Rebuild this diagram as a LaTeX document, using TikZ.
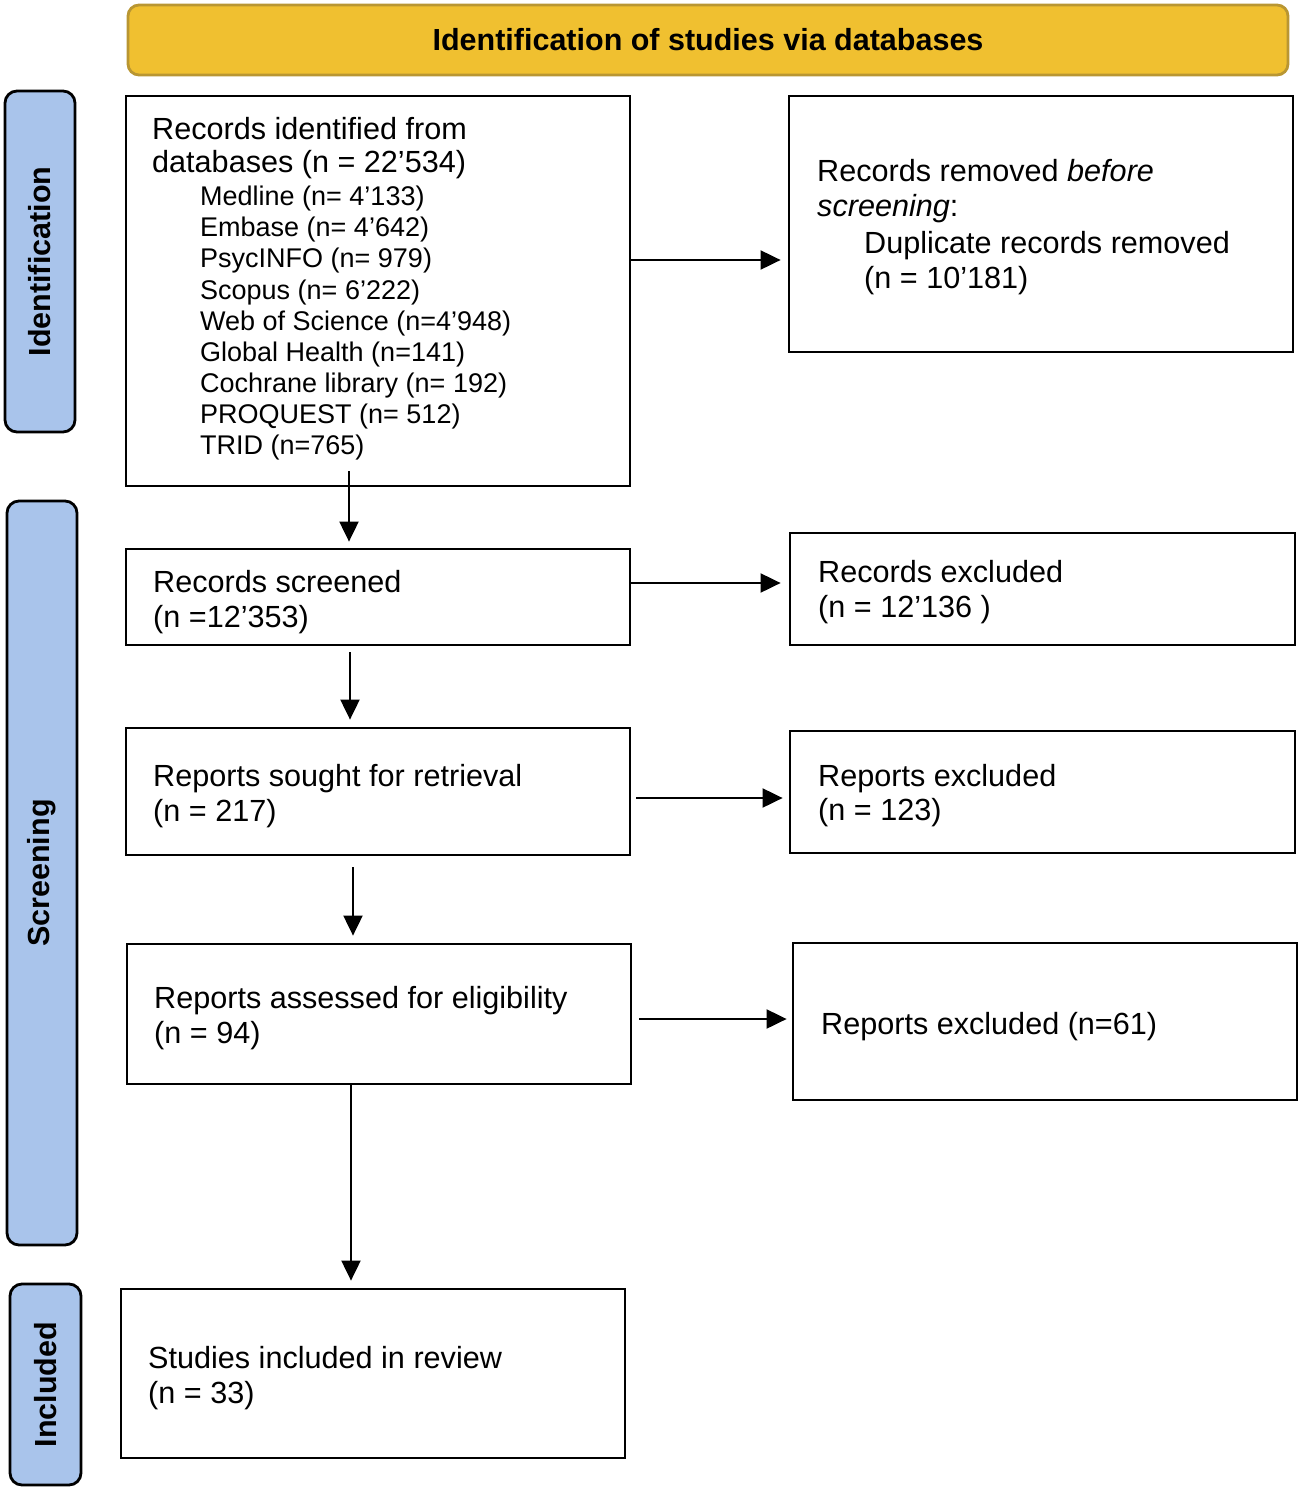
\documentclass[tikz,border=0pt]{standalone}
\usepackage{fontspec}
\setmainfont{Liberation Sans}
\usetikzlibrary{arrows.meta}
\definecolor{hdrfill}{RGB}{240,192,48}
\definecolor{hdrdraw}{RGB}{185,150,50}
\definecolor{sidefill}{RGB}{169,196,235}
\newcommand\mkbox[6][]{\node[#1, minimum width={#5-#3}, minimum height={#6-#4}] (#2) at ({(#3+#5)/2},{(#4+#6)/2}) {};}
\newcommand\txtline[5][main]{\node[txt,#1] (#2) at (#3,#4) {#5};}
\begin{document}
\begin{tikzpicture}[x=1pt,y=-1pt,
  box/.style={draw, line width=2.8pt, inner sep=0pt},
  side/.style={draw, line width=2.8pt, fill=sidefill, rounded corners=12pt, inner sep=0pt},
  hdr/.style={draw=hdrdraw, line width=2.8pt, fill=hdrfill, rounded corners=11pt, inner sep=0pt},
  txt/.style={anchor=base west, inner sep=0pt},
  main/.style={font=\fontsize{30.6}{33}\selectfont},
  sub/.style={font=\fontsize{27}{31}\selectfont},
  sidelbl/.style={rotate=90, inner sep=0pt, font=\fontsize{30.5}{33}\selectfont\bfseries},
  arr/.style={line width=2pt, -{Triangle[length=20pt,width=19pt]}}]
\useasboundingbox (0,0) rectangle (1301,1490);
% header
\mkbox[hdr]{hd}{128}{5}{1288}{75}
\node[inner sep=0pt, font=\fontsize{30.5}{33}\selectfont\bfseries] (hdt) at (hd.center) {Identification of studies via databases};
% side boxes
\mkbox[side]{s1}{5}{91}{75}{432}
\mkbox[side]{s2}{7}{501}{77}{1245}
\mkbox[side]{s3}{10}{1284}{81}{1485}
\node[sidelbl] (s1t) at (s1.center) {Identification};
\node[sidelbl] (s2t) at (s2.center) {Screening};
\node[sidelbl] (s3t) at (s3.center) {Included};
% boxes
\mkbox[box]{b1}{126}{96}{630}{486}
\mkbox[box]{r1}{789}{96}{1293}{352}
\mkbox[box]{b2}{126}{549}{630}{645}
\mkbox[box]{r2}{790}{533}{1295}{645}
\mkbox[box]{b3}{126}{728}{630}{855}
\mkbox[box]{r3}{790}{731}{1295}{853}
\mkbox[box]{b4}{127}{944}{631}{1084}
\mkbox[box]{r4}{793}{943}{1297}{1100}
\mkbox[box]{b5}{121}{1289}{625}{1458}
% texts box 1
\txtline{t1a}{152}{140}{Records identified from}
\txtline{t1b}{152}{173}{databases (n = 22’534)}
\txtline[sub]{t1c}{200}{205}{Medline (n= 4’133)}
\txtline[sub]{t1d}{200}{236}{Embase (n= 4’642)}
\txtline[sub]{t1e}{200}{267}{PsycINFO (n= 979)}
\txtline[sub]{t1f}{200}{299}{Scopus (n= 6’222)}
\txtline[sub]{t1g}{200}{330}{Web of Science (n=4’948)}
\txtline[sub]{t1h}{200}{361}{Global Health (n=141)}
\txtline[sub]{t1i}{200}{392}{Cochrane library (n= 192)}
\txtline[sub]{t1j}{200}{423}{PROQUEST (n= 512)}
\txtline[sub]{t1k}{200}{454}{TRID (n=765)}
% right 1
\txtline{tr1a}{817}{182}{Records removed \textit{before}}
\txtline{tr1b}{817}{216}{\textit{screening}:}
\txtline{tr1c}{864}{253}{Duplicate records removed}
\txtline{tr1d}{864}{288}{(n = 10’181)}
% box 2
\txtline{t2a}{153}{592}{Records screened}
\txtline{t2b}{153}{627}{(n =12’353)}
\txtline{tr2a}{818}{582}{Records excluded}
\txtline{tr2b}{818}{617}{(n = 12’136 )}
% box 3
\txtline{t3a}{153}{786}{Reports sought for retrieval}
\txtline{t3b}{153}{821}{(n = 217)}
\txtline{tr3a}{818}{786}{Reports excluded}
\txtline{tr3b}{818}{820}{(n = 123)}
% box 4
\txtline{t4a}{154}{1008}{Reports assessed for eligibility}
\txtline{t4b}{154}{1043}{(n = 94)}
\txtline{tr4a}{821}{1034}{Reports excluded (n=61)}
% box 5
\txtline{t5a}{148}{1368}{Studies included in review}
\txtline{t5b}{148}{1403}{(n = 33)}
% arrows
\draw[arr, shorten >=7pt] (b1.east |- 0,260) -- (r1.west |- 0,260);
\draw[arr, shorten >=8pt] (b2.east |- 0,583) -- (r2.west |- 0,583);
\draw[arr, shorten <=5pt, shorten >=6pt] (b3.east |- 0,798) -- (r3.west |- 0,798);
\draw[arr, shorten <=7pt, shorten >=5pt] (b4.east |- 0,1019) -- (r4.west |- 0,1019);
\draw[arr, shorten <=-16pt, shorten >=6pt] (b1.south -| 349,0) -- (b2.north -| 349,0);
\draw[arr, shorten <=6pt, shorten >=7pt] (b2.south -| 350,0) -- (b3.north -| 350,0);
\draw[arr, shorten <=11pt, shorten >=7pt] (b3.south -| 353,0) -- (b4.north -| 353,0);
\draw[arr, shorten >=7pt] (b4.south -| 351,0) -- (b5.north -| 351,0);
\end{tikzpicture}
\end{document}
